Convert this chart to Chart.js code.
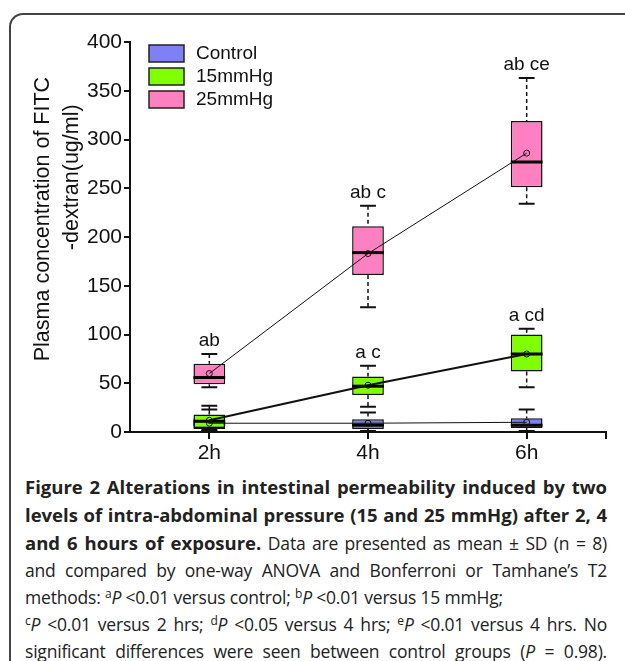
<!DOCTYPE html>
<html>
<head>
    <title>Figure 2</title>
    <script src="https://cdn.jsdelivr.net/npm/chart.js"></script>
    <style>
        body { margin: 0; width: 625px; height: 661px; overflow: hidden; background: #fff; position: relative; }
        #frame { position: absolute; left: 9px; top: 13px; width: 700px; height: 700px;
                 border-left: 2px solid #444; border-top: 2px solid #444; border-top-left-radius: 14px; }
        #wrap { position: absolute; left: 0; top: 0; width: 625px; height: 470px; }
        #caption { position: absolute; left: 25px; top: 473px; width: 582px;
                   font-family: "Open Sans", sans-serif; font-size: 17.5px; letter-spacing: -0.2px; line-height: 27px; color: #222; }
        #caption b { font-size: 18.5px; letter-spacing: 0; }
        #caption div { white-space: nowrap; text-align: justify; text-align-last: justify; }
        #caption div.ragged { text-align-last: left; }
        #caption sup { font-size: 12px; line-height: 0; vertical-align: 6px; }
    </style>
</head>
<body>
    <div id="frame"></div>
    <div id="wrap"><canvas id="fitcChart"></canvas></div>
    <div id="caption">
        <div><b>Figure 2 Alterations in intestinal permeability induced by two</b></div>
        <div><b>levels of intra-abdominal pressure (15 and 25 mmHg) after 2, 4</b></div>
        <div><b>and 6 hours of exposure.</b> Data are presented as mean ± SD (n = 8)</div>
        <div>and compared by one-way ANOVA and Bonferroni or Tamhane’s T2</div>
        <div class="ragged">methods: <sup>a</sup><i>P</i> &lt;0.01 versus control; <sup>b</sup><i>P</i> &lt;0.01 versus 15 mmHg;</div>
        <div><sup>c</sup><i>P</i> &lt;0.01 versus 2 hrs; <sup>d</sup><i>P</i> &lt;0.05 versus 4 hrs; <sup>e</sup><i>P</i> &lt;0.01 versus 4 hrs. No</div>
        <div>significant differences were seen between control groups (<i>P</i> = 0.98).</div>
    </div>

    <script>
        // categories
        var times = ['2h', '4h', '6h'];

        // control
        var ctrlMin = [1, 1, 1];
        var ctrlQ1 = [3, 3, 4];
        var ctrlMedian = [8, 7, 7];
        var ctrlQ3 = [14, 13, 14];
        var ctrlMax = [23, 20, 23];
        var ctrlMean = [9, 9, 10];

        // 15 mmHg
        var p15Min = [2, 26, 46];
        var p15Q1 = [4, 38, 62];
        var p15Median = [11, 47, 80];
        var p15Q3 = [18, 57, 100];
        var p15Max = [27, 68, 106];
        var p15Mean = [12, 48, 80];

        // 25 mmHg
        var p25Min = [46, 128, 234];
        var p25Q1 = [49, 161, 251];
        var p25Median = [56, 184, 277];
        var p25Q3 = [70, 211, 319];
        var p25Max = [80, 232, 363];
        var p25Mean = [60, 183, 286];

        // significance letters
        var sig15 = ['', 'a c', 'a cd'];
        var sig25 = ['ab', 'ab c', 'ab ce'];

        var yTicks = [0, 50, 100, 150, 200, 250, 300, 350, 400];

        function ranges(q1, q3) {
            return q1.map(function (v, i) { return [v, q3[i]]; });
        }

        function boxSet(label, color, q1, q3, min, med, max, sig, order) {
            return {
                type: 'bar',
                label: label,
                data: ranges(q1, q3),
                backgroundColor: color,
                borderColor: '#111',
                borderWidth: 1.5,
                borderSkipped: false,
                grouped: false,
                barPercentage: 0.2,
                categoryPercentage: 1,
                order: order,
                whiskerMin: min,
                whiskerMax: max,
                median: med,
                sig: sig
            };
        }

        function meanSet(data, width) {
            return {
                type: 'line',
                data: data,
                borderColor: '#111',
                borderWidth: width,
                pointRadius: 3,
                pointBorderWidth: 1,
                pointBorderColor: '#111',
                pointBackgroundColor: 'rgba(0,0,0,0)',
                order: 0
            };
        }

        // whiskers under each box, medians on top of it
        var boxPlugin = {
            id: 'boxParts',
            beforeDatasetDraw: function (chart, args) {
                var ds = chart.data.datasets[args.index];
                if (!ds.whiskerMax) return;
                var ctx = chart.ctx, y = chart.scales.y;
                ctx.save();
                ctx.strokeStyle = '#111';
                args.meta.data.forEach(function (bar, i) {
                    var x = bar.x;
                    var half = bar.width / 4;
                    ctx.lineWidth = 1.5;
                    ctx.setLineDash([4, 3]);
                    ctx.beginPath();
                    ctx.moveTo(x, y.getPixelForValue(ds.whiskerMax[i]));
                    ctx.lineTo(x, y.getPixelForValue(ds.data[i][1]));
                    ctx.moveTo(x, y.getPixelForValue(ds.data[i][0]));
                    ctx.lineTo(x, y.getPixelForValue(ds.whiskerMin[i]));
                    ctx.stroke();
                    ctx.setLineDash([]);
                    ctx.lineWidth = 2;
                    ctx.beginPath();
                    [ds.whiskerMax[i], ds.whiskerMin[i]].forEach(function (v) {
                        var py = y.getPixelForValue(v);
                        ctx.moveTo(x - half, py);
                        ctx.lineTo(x + half, py);
                    });
                    ctx.stroke();
                });
                ctx.restore();
            },
            afterDatasetDraw: function (chart, args) {
                var ds = chart.data.datasets[args.index];
                if (!ds.median) return;
                var ctx = chart.ctx, y = chart.scales.y;
                ctx.save();
                ctx.strokeStyle = '#000';
                ctx.lineWidth = 3;
                args.meta.data.forEach(function (bar, i) {
                    var py = y.getPixelForValue(ds.median[i]);
                    ctx.beginPath();
                    ctx.moveTo(bar.x - bar.width / 2, py);
                    ctx.lineTo(bar.x + bar.width / 2, py);
                    ctx.stroke();
                });
                ctx.restore();
            },
            afterDraw: function (chart) {
                var ctx = chart.ctx, x = chart.scales.x, y = chart.scales.y, area = chart.chartArea;
                ctx.save();
                // closing tick at the right end of the x axis
                ctx.strokeStyle = '#111';
                ctx.lineWidth = 2;
                ctx.beginPath();
                ctx.moveTo(area.right, area.bottom);
                ctx.lineTo(area.right, area.bottom + 7);
                ctx.stroke();
                // significance letters
                ctx.font = '19px "Liberation Sans", Arial, sans-serif';
                ctx.fillStyle = '#111';
                ctx.textAlign = 'center';
                ctx.textBaseline = 'middle';
                chart.data.datasets.forEach(function (ds) {
                    if (!ds.sig) return;
                    ds.sig.forEach(function (s, i) {
                        if (!s) return;
                        ctx.fillText(s, x.getPixelForValue(i), y.getPixelForValue(ds.whiskerMax[i]) - 13);
                    });
                });
                // legend inside the plot
                var legendItems = chart.data.datasets.filter(function (ds) { return ds.type === 'bar'; });
                legendItems.forEach(function (ds, i) {
                    var bx = area.left + 19, by = area.top + 3 + i * 23;
                    ctx.fillStyle = ds.backgroundColor;
                    ctx.fillRect(bx, by, 35, 17);
                    ctx.strokeStyle = '#222';
                    ctx.lineWidth = 1.5;
                    ctx.strokeRect(bx, by, 35, 17);
                    ctx.fillStyle = '#111';
                    ctx.textAlign = 'left';
                    ctx.fillText(ds.label, bx + 47, by + 9);
                });
                ctx.restore();
            }
        };

        var ctx = document.getElementById('fitcChart').getContext('2d');
        var chart = new Chart(ctx, {
            type: 'bar',
            data: {
                labels: times,
                datasets: [
                    meanSet(p25Mean, 1),
                    meanSet(p15Mean, 2),
                    meanSet(ctrlMean, 1),
                    boxSet('Control', '#8080f5', ctrlQ1, ctrlQ3, ctrlMin, ctrlMedian, ctrlMax, null, 3),
                    boxSet('15mmHg', '#80ff00', p15Q1, p15Q3, p15Min, p15Median, p15Max, sig15, 2),
                    boxSet('25mmHg', '#ff80c0', p25Q1, p25Q3, p25Min, p25Median, p25Max, sig25, 1)
                ]
            },
            options: {
                responsive: true,
                maintainAspectRatio: false,
                animation: false,
                layout: { padding: { top: 42, right: 19, bottom: 0, left: 0 } },
                plugins: {
                    legend: { display: false },
                    tooltip: { enabled: false }
                },
                scales: {
                    x: {
                        offset: true,
                        grid: { offset: false, drawOnChartArea: false, drawTicks: true, tickLength: 7, color: '#111', lineWidth: 2 },
                        border: { display: true, color: '#111', width: 2 },
                        ticks: { color: '#111', padding: 2, font: { family: '"Liberation Sans", Arial', size: 21 } },
                        afterFit: function (s) { s.height = 38; }
                    },
                    y: {
                        min: 0,
                        max: 400,
                        afterBuildTicks: function (s) { s.ticks = yTicks.map(function (v) { return { value: v }; }); },
                        grid: { drawOnChartArea: false, drawTicks: true, tickLength: 6, color: '#111', lineWidth: 2 },
                        border: { display: true, color: '#111', width: 2 },
                        ticks: { color: '#111', padding: 2, font: { family: '"Liberation Sans", Arial', size: 21 } },
                        title: {
                            display: true,
                            text: ['      Plasma concentration of FITC', '                    -dextran(ug/ml)'],
                            color: '#111',
                            font: { family: '"Liberation Sans", Arial', size: 21.5, lineHeight: 1.35 },
                            padding: { top: 28.5, bottom: 0 }
                        },
                        afterFit: function (s) { s.width = 130; }
                    }
                }
            },
            plugins: [boxPlugin]
        });
    </script>
</body>
</html>
